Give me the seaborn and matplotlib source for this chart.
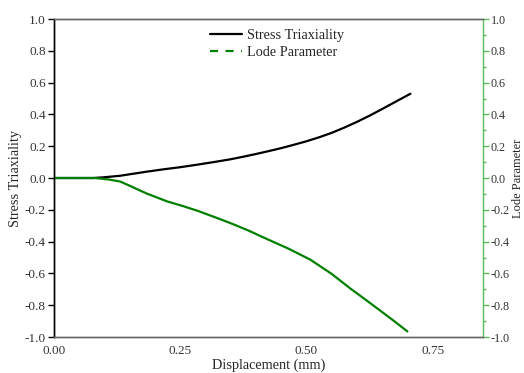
import numpy as np
import pandas as pd
import seaborn as sns
import matplotlib
matplotlib.use("Agg")
import matplotlib.pyplot as plt
from matplotlib.lines import Line2D

# Data
disp_st = [0.0, 0.05, 0.078, 0.10, 0.131, 0.151, 0.184, 0.22, 0.25, 0.286, 0.32, 0.35, 0.375, 0.40,
           0.425, 0.45, 0.475, 0.50, 0.525, 0.55, 0.575, 0.60, 0.625, 0.65, 0.675, 0.706]
stress_triaxiality = [0.0, 0.0, 0.0, 0.005, 0.014, 0.024, 0.04, 0.056, 0.068, 0.085, 0.102, 0.118, 0.134, 0.151,
                      0.169, 0.188, 0.209, 0.231, 0.256, 0.284, 0.317, 0.353, 0.392, 0.434, 0.477, 0.53]

disp_lp = [0.0, 0.05, 0.08, 0.091, 0.11, 0.131, 0.151, 0.17, 0.184, 0.224, 0.257, 0.286, 0.32, 0.349,
           0.385, 0.422, 0.465, 0.508, 0.55, 0.587, 0.62, 0.65, 0.675, 0.70]
lode_parameter = [0.0, 0.0, 0.0, -0.003, -0.01, -0.022, -0.05, -0.078, -0.098, -0.147, -0.178, -0.208, -0.248, -0.283,
                  -0.33, -0.384, -0.445, -0.514, -0.603, -0.695, -0.772, -0.843, -0.903, -0.965]

x_ticks = [0.0, 0.25, 0.5, 0.75]
y_ticks = [-1.0, -0.8, -0.6, -0.4, -0.2, 0.0, 0.2, 0.4, 0.6, 0.8, 1.0]

sns.set_style("white")
plt.rcParams['font.family'] = ['Liberation Serif', 'DejaVu Serif']

fig = plt.figure(figsize=(5.24, 3.73), dpi=100)
ax = fig.add_axes([0.103, 0.0965, 0.819, 0.8525])
ax2 = ax.twinx()

df1 = pd.DataFrame({"x": disp_st, "y": stress_triaxiality})
df2 = pd.DataFrame({"x": disp_lp, "y": lode_parameter})
sns.lineplot(data=df1, x="x", y="y", ax=ax, color="black", linewidth=1.6, sort=False)
sns.lineplot(data=df2, x="x", y="y", ax=ax2, color="#008000", linewidth=1.6, sort=False)

for a in (ax, ax2):
    a.set_xlim(0, 0.85)
    a.set_ylim(-1.0, 1.0)
    a.set_yticks(y_ticks)
    a.set_yticklabels([f"{v:.1f}" for v in y_ticks])

ax.set_xticks(x_ticks)
ax.set_xticklabels([f"{v:.2f}" for v in x_ticks])
ax.tick_params(axis="both", direction="out", length=4, width=1, labelsize=9.5, colors="#333333", pad=2)
ax.tick_params(axis="y", color="black")
ax.tick_params(axis="x", color="black")
ax2.set_yticks(np.arange(-1.0, 1.01, 0.1), minor=True)
ax2.tick_params(axis="y", which="major", direction="out", length=4, width=1, color="#5cb85c", labelcolor="#333333", labelsize=8.7, pad=1.5)
ax2.tick_params(axis="y", which="minor", direction="out", length=2.5, width=1, color="#5cb85c")

ax.set_xlabel("Displacement (mm)", fontsize=10.3, labelpad=1)
ax.set_ylabel("Stress Triaxiality", fontsize=10.3, labelpad=2)
ax2.set_ylabel("Lode Parameter", fontsize=9)
ax2.yaxis.set_label_coords((512 - 54) / 429, 0.5)

for s in ("top", "bottom"):
    ax.spines[s].set_color("#666666")
    ax2.spines[s].set_color("#666666")
ax.spines["left"].set_color("black")
ax2.spines["left"].set_color("black")
ax2.spines["right"].set_color("#5cb85c")
ax.spines["right"].set_visible(False)
for sp in ax.spines.values():
    sp.set_linewidth(1)
for sp in ax2.spines.values():
    sp.set_linewidth(1)

handles = [Line2D([], [], color="black", lw=1.6), Line2D([], [], color="#008000", lw=1.6, ls=(0, (3.6, 3.4)))]
ax2.legend(handles, ["Stress Triaxiality", "Lode Parameter"], loc="upper center",
           bbox_to_anchor=(0.52, 1.0), frameon=False, fontsize=10.3, handlelength=2.2,
           handletextpad=0.4, labelspacing=0.25, borderaxespad=0.3)

fig.savefig("out.png", dpi=100)
